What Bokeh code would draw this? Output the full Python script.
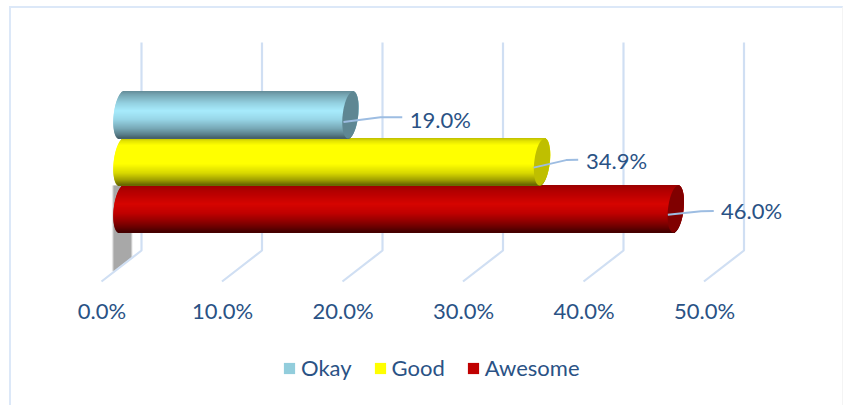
import numpy as np
from bokeh.plotting import figure
from bokeh.embed import file_html
from bokeh.resources import INLINE
from bokeh.models import Range1d, LinearAxis, FixedTicker, PrintfTickFormatter, Legend, LegendItem
from bokeh.core.properties import value

# ---- data ----
series = ["Okay", "Good", "Awesome"]
values = [19.0, 34.9, 46.0]
labels = ["19.0%", "34.9%", "46.0%"]
ticks = [0, 10, 20, 30, 40, 50]
legend_colors = ["#92cddc", "#ffff00", "#c00000"]

# ---- styling ----
FONT = "Lato"
TEXT = "#2a5285"
GRID = "#d0dff3"
LEADER = "#9dbde2"
PX = 12.05            # pixels per percent
positions = [2, 1, 0]
cap_colors = ["#5e8793", "#bfbf00", "#800000"]
base_colors = ["#78a9b7", "#a0a000", "#800000"]
ramps = [
    ([0, .06, .25, .42, .6, .8, .94, 1],
     ["#668f9b", "#74a3b0", "#93d0e0", "#a7ebfc", "#98d7e8", "#78a9b7", "#587c87", "#47636c"]),
    ([0, .06, .15, .55, .75, .9, 1],
     ["#c4c400", "#e6e600", "#ffff00", "#ffff00", "#d8d800", "#a0a000", "#6a6a00"]),
    ([0, .08, .2, .4, .6, .78, .92, 1],
     ["#9c0000", "#ac0000", "#bc0000", "#d60400", "#c00000", "#900000", "#640000", "#460000"]),
]
leader_start = [-0.58, -0.70, -0.66]
leader_kink = [2.5, 2.0, 2.1]
leader_end = [4.3, 3.0, 3.15]
leader_dy = [(-0.15, -0.05, -0.05), (-0.12, 0.04, 0.05), (-0.12, -0.05, -0.04)]
label_off = [4.92, 3.65, 3.75]
label_dy = [-0.10, 0.03, -0.03]

W = 831
# The frame runs down to the legend; the floor and the bars sit in its upper part.
FRAME_H = 397
p = figure(width=W, height=397, frame_width=W, frame_height=FRAME_H,
           output_backend="svg", toolbar_location=None,
           x_range=Range1d(-110 / PX, (W - 110) / PX),
           y_range=Range1d((200.5 - FRAME_H) / 47, 200.5 / 47),
           min_border_left=0, min_border_right=0, min_border_top=0, min_border_bottom=0,
           outline_line_color=None, background_fill_color="white", border_fill_color="white")
p.styles = {"margin-left": "9px", "margin-top": "6px",
            "border-left": "2px solid #dce8f8", "border-top": "2px solid #dce8f8",
            "border-right": "1px solid #f4f4f4"}
p.below = []
p.left = []
p.grid.visible = False

# front axis: tick labels sit on the front edge of the floor
p.extra_x_ranges = {"front": Range1d(-90.5 / PX, (W - 90.5) / PX)}
ax = LinearAxis(x_range_name="front", ticker=FixedTicker(ticks=ticks),
                formatter=PrintfTickFormatter(format="%.1f%%"),
                axis_line_color=None, major_tick_line_color=None, minor_tick_line_color=None,
                major_label_text_font=FONT, major_label_text_font_size="22px",
                major_label_text_color=TEXT, major_label_standoff=-115)
p.add_layout(ax, "below")

# shadow behind the first bar (soft edge from a few layers)
for grow, alpha in [(0.14, 0.2), (0.07, 0.45), (0.0, 1.0)]:
    p.patch([-0.66 - grow, 0.8 + grow, 0.8 + grow, -0.66 - grow],
            [0.5, 0.5, -1.03, -1.33], fill_color="#a8a8a8", fill_alpha=alpha, line_color=None)

# walls and floor lines
depth = 20 / PX
wall_top, wall_bottom, floor = 166.5 / 47, -41.5 / 47, -72.5 / 47
p.multi_line([[t + depth, t + depth, t - depth] for t in ticks],
             [[wall_top, wall_bottom, floor] for _ in ticks],
             line_color=GRID, line_width=2.2)

# cylinders: one thin band per pixel row, then the end cap
a = 7.8 / PX
s = 2.5 / PX
rows = 47
for i in (2, 1, 0):
    v, yc = values[i], positions[i]
    edges = np.linspace(0.5, -0.5, rows + 1)
    mids = (edges[:-1] + edges[1:]) / 2
    tt = mids * 2
    w = a * np.sqrt(1 - tt ** 2)
    stops, cols = ramps[i]
    rgb = np.array([[int(c[j:j + 2], 16) for j in (1, 3, 5)] for c in cols], dtype=float)
    frac = np.linspace(0, 1, rows)
    shade = ["#%02x%02x%02x" % tuple(int(round(np.interp(f, stops, rgb[:, k]))) for k in range(3)) for f in frac]
    # opaque body underneath so that nothing shows between the bands
    p.quad(left=[0.0], right=[v], top=[yc + 0.495], bottom=[yc - 0.495],
           fill_color=base_colors[i], fill_alpha=1.0, line_color=None)
    p.quad(left=-w + s * tt, right=v + w + s * tt,
           top=yc + edges[:-1] + 0.012, bottom=yc + edges[1:] - 0.012,
           fill_color=shade, fill_alpha=1.0, line_color=None)
    th = np.linspace(0, 2 * np.pi, 72)
    p.patch(v + a * np.cos(th) + s * np.sin(th), yc + 0.5 * np.sin(th),
            fill_color=cap_colors[i], fill_alpha=1.0, line_color=None)

# leader lines and labels
for i in range(3):
    v, yc = values[i], positions[i]
    p.line([v + leader_start[i], v + leader_kink[i], v + leader_end[i]],
           [yc + d for d in leader_dy[i]], line_color=LEADER, line_width=2)
    p.text([v + label_off[i]], [yc + label_dy[i]], text=[labels[i]], text_font=value(FONT),
           text_font_size="22px", text_color=TEXT, text_baseline="middle", text_align="left")

# legend
swatches = [p.quad(left=[np.nan], right=[np.nan], top=[np.nan], bottom=[np.nan],
                   fill_color=c, line_color=None) for c in legend_colors]
legend = Legend(items=[LegendItem(label=n, renderers=[r]) for n, r in zip(series, swatches)],
                orientation="horizontal", location=(271, 24),
                label_text_font=FONT, label_text_font_size="22px", label_text_color=TEXT,
                glyph_width=14, glyph_height=14, label_standoff=5, spacing=21,
                border_line_color=None, background_fill_color=None, background_fill_alpha=0,
                padding=0, margin=0)
p.add_layout(legend, "center")

open("out.html", "w").write(file_html(p, INLINE))
